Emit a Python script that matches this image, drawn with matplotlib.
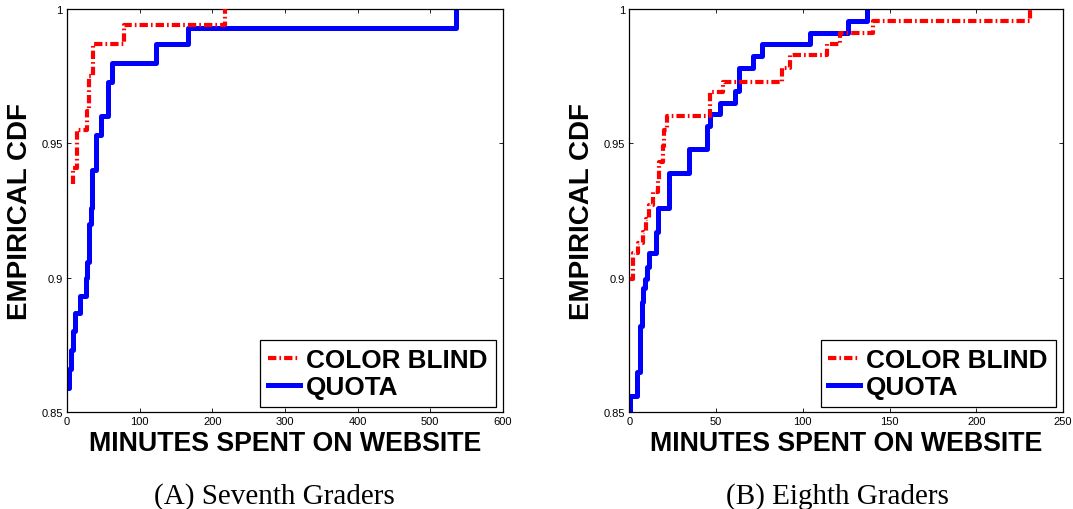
import matplotlib
matplotlib.use("Agg")
import matplotlib.pyplot as plt

# --- data (step points, where="post") ---
# (A) seventh graders
x7_color = [8, 9, 14, 27, 30, 36, 78, 217]
y7_color = [0.935, 0.941, 0.955, 0.962, 0.975, 0.987, 0.994, 1.0]
x7_quota = [0, 3, 5.5, 8.7, 11.5, 18, 26, 28, 30, 32.7, 35, 40, 46.5, 56, 61.6, 122, 167, 535]
y7_quota = [0.859, 0.866, 0.873, 0.880, 0.887, 0.893, 0.900, 0.906, 0.920, 0.926,
            0.940, 0.953, 0.960, 0.973, 0.980, 0.987, 0.993, 1.0]

# (B) eighth graders
x8_color = [0.4, 2, 4.8, 7.7, 9.6, 11.5, 13.5, 16.4, 17.3, 19.3, 20.2, 21.6,
            46.5, 54.2, 87.9, 92.7, 114.2, 121.5, 140.7, 231]
y8_color = [0.8995, 0.909, 0.913, 0.917, 0.922, 0.927, 0.932, 0.936, 0.943, 0.949,
            0.955, 0.960, 0.969, 0.973, 0.978, 0.983, 0.987, 0.991, 0.9955, 1.0]
x8_quota = [0.4, 0.4, 4.3, 6.2, 7.1, 8, 9, 10, 11.5, 15.4, 16.7, 23, 34.6, 45,
            46.5, 52.3, 61, 63.3, 71.5, 76.4, 104.2, 126.2, 136.9]
y8_quota = [0.85, 0.856, 0.865, 0.882, 0.891, 0.896, 0.8995, 0.904, 0.909, 0.917,
            0.926, 0.939, 0.948, 0.9565, 0.961, 0.965, 0.9696, 0.978, 0.9826,
            0.987, 0.991, 0.9956, 1.0]

labels = ["COLOR BLIND", "QUOTA"]
y_ticks = [0.85, 0.9, 0.95, 1.0]
y_ticklabels = ["0.85", "0.9", "0.95", "1"]
x7_ticks = [0, 100, 200, 300, 400, 500, 600]
x8_ticks = [0, 50, 100, 150, 200, 250]
captions = ["(A) Seventh Graders", "(B) Eighth Graders"]

plt.rcParams["font.family"] = ["Liberation Sans", "DejaVu Sans"]
plt.rcParams["lines.scale_dashes"] = False

fig = plt.figure(figsize=(10.73, 5.10), dpi=100)
ax1 = fig.add_axes([0.0624, 0.1902, 0.4063, 0.7902])
ax2 = fig.add_axes([0.5865, 0.1902, 0.4042, 0.7902])

panels = [
    (ax1, x7_color, y7_color, x7_quota, y7_quota, x7_ticks, 600, captions[0], 0.256),
    (ax2, x8_color, y8_color, x8_quota, y8_quota, x8_ticks, 250, captions[1], 0.780),
]

for ax, xc, yc, xq, yq, xt, xmax, cap, capx in panels:
    ax.step(xc, yc, where="post", color="red", lw=3.0, dashes=(6, 2.2, 1.2, 2.2),
            label=labels[0], zorder=3)
    ax.step(xq, yq, where="post", color="blue", lw=3.6, label=labels[1], zorder=2)
    ax.set_xlim(0, xmax)
    ax.set_ylim(0.85, 1.0)
    ax.set_xticks(xt)
    ax.set_xticklabels([str(t) for t in xt])
    ax.set_yticks(y_ticks)
    ax.set_yticklabels(y_ticklabels)
    ax.tick_params(direction="in", length=3, width=0.6, labelsize=8,
                   top=True, right=True, pad=3)
    for s in ax.spines.values():
        s.set_linewidth(0.9)
    ax.set_xlabel("MINUTES SPENT ON WEBSITE", fontsize=19.3, fontweight="bold", labelpad=3)
    ax.set_ylabel("EMPIRICAL CDF", fontsize=20, fontweight="bold", labelpad=6)
    leg = ax.legend(loc="lower right", bbox_to_anchor=(0.983, 0.013), borderaxespad=0,
                    prop={"weight": "bold", "size": 18.8},
                    handlelength=1.2, handletextpad=0.25, labelspacing=0.1,
                    borderpad=0.3, fancybox=False, framealpha=1)
    leg.get_frame().set_edgecolor("black")
    leg.get_frame().set_linewidth(0.9)
    fig.text(capx, 0.012, cap, ha="center", va="baseline", fontsize=21,
             family=["Liberation Serif"])

fig.savefig("out.png", dpi=100)
